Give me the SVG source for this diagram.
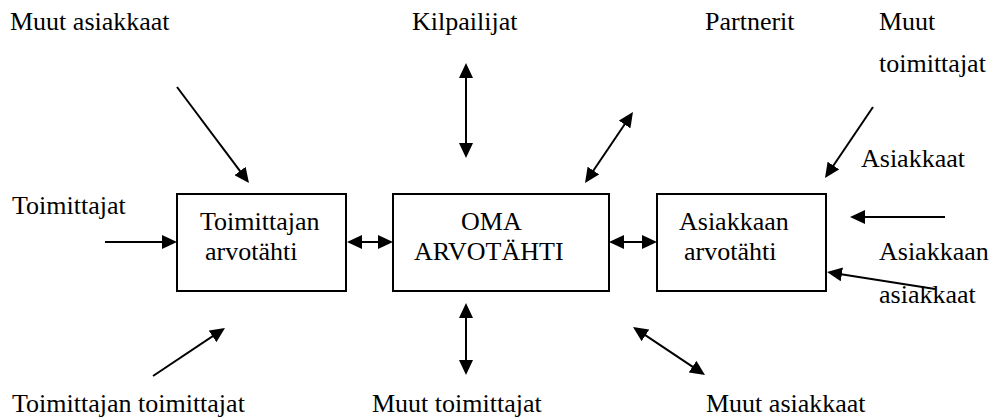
<svg xmlns="http://www.w3.org/2000/svg" width="994" height="419" viewBox="0 0 994 419">
  <style>
    .box { fill: #fff; stroke: #000; stroke-width: 2; }
    .one { stroke: #000; stroke-width: 2; fill: none; marker-end: url(#head); }
    .two { stroke: #000; stroke-width: 2; fill: none; marker-start: url(#head); marker-end: url(#head); }
  </style>
  <defs>
    <marker id="head" markerUnits="userSpaceOnUse" markerWidth="15" markerHeight="14" refX="12" refY="7" orient="auto-start-reverse" viewBox="0 0 15 14">
      <path d="M0,0 L15,7 L0,14 z" fill="#000"/>
    </marker>
  </defs>

  <rect width="994" height="419" fill="#fff"/>

  <g font-family="Liberation Serif, 'Times New Roman', serif" font-size="26" fill="#000">
    <!-- value-star boxes -->
    <g id="toimittajan-arvotahti">
      <rect class="box" x="177" y="194" width="169" height="97"/>
      <text x="200" y="230">Toimittajan</text>
      <text x="205" y="260">arvotähti</text>
    </g>
    <g id="oma-arvotahti">
      <rect class="box" x="393" y="194" width="216" height="97"/>
      <text x="461" y="230">OMA</text>
      <text x="414" y="260">ARVOTÄHTI</text>
    </g>
    <g id="asiakkaan-arvotahti">
      <rect class="box" x="657" y="194" width="169" height="97"/>
      <text x="679" y="230">Asiakkaan</text>
      <text x="684" y="260">arvotähti</text>
    </g>

    <!-- surrounding actors -->
    <g id="muut-asiakkaat-top"><text x="10" y="30">Muut asiakkaat</text></g>
    <g id="kilpailijat"><text x="412" y="30">Kilpailijat</text></g>
    <g id="partnerit"><text x="705" y="30">Partnerit</text></g>
    <g id="muut-toimittajat-top">
      <text x="879" y="30">Muut</text>
      <text x="879" y="72">toimittajat</text>
    </g>
    <g id="asiakkaat"><text x="861" y="167">Asiakkaat</text></g>
    <g id="toimittajat"><text x="12" y="214">Toimittajat</text></g>
    <g id="asiakkaan-asiakkaat">
      <text x="879" y="260">Asiakkaan</text>
      <text x="879" y="303">asiakkaat</text>
    </g>
    <g id="toimittajan-toimittajat"><text x="12" y="412">Toimittajan toimittajat</text></g>
    <g id="muut-toimittajat-bottom"><text x="372" y="412">Muut toimittajat</text></g>
    <g id="muut-asiakkaat-bottom"><text x="706" y="412">Muut asiakkaat</text></g>
  </g>

  <!-- connectors -->
  <g id="connectors">
    <line class="one" x1="177" y1="87" x2="247.2" y2="180.6"/>
    <line class="one" x1="105" y1="242" x2="174" y2="242"/>
    <line class="two" x1="350" y1="242" x2="390" y2="242"/>
    <line class="two" x1="612" y1="242" x2="654" y2="242"/>
    <line class="two" x1="466" y1="66" x2="466" y2="155"/>
    <line class="two" x1="586.7" y1="180.5" x2="631.3" y2="114.5"/>
    <line class="one" x1="873" y1="107" x2="826.7" y2="175.5"/>
    <line class="one" x1="945" y1="217" x2="853" y2="217"/>
    <line class="one" x1="935" y1="289" x2="830" y2="272.5"/>
    <line class="one" x1="153" y1="376" x2="222.5" y2="329.7"/>
    <line class="two" x1="466" y1="306" x2="466" y2="372"/>
    <line class="two" x1="635.5" y1="328.7" x2="702.5" y2="373.3"/>
  </g>
</svg>
